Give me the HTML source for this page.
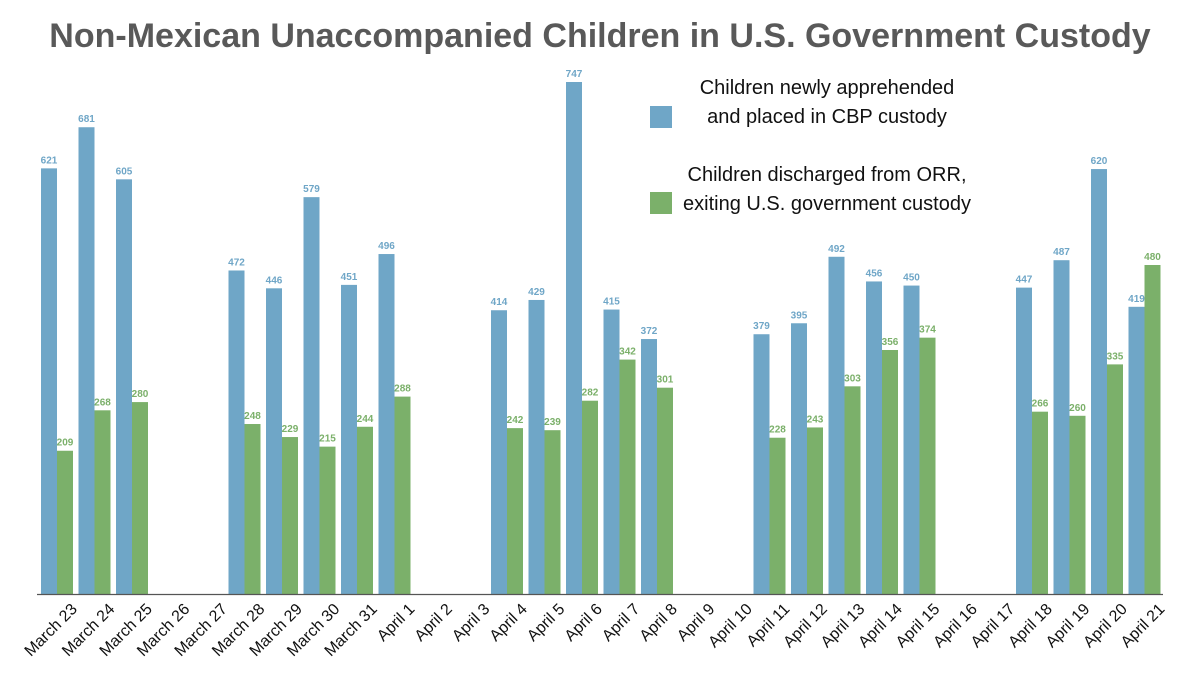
<!DOCTYPE html>
<html><head><meta charset="utf-8"><style>
body{margin:0;background:#fff;width:1200px;height:675px;overflow:hidden}
svg{display:block;font-family:"Liberation Sans",sans-serif}
</style></head><body>
<svg id="chart" width="1200" height="675">
<text x="600" y="47" text-anchor="middle" font-size="34" font-weight="bold" fill="#595959">Non-Mexican Unaccompanied Children in U.S. Government Custody</text>
<g>
<rect x="650" y="106" width="22" height="22" fill="#6fa6c7"/>
<text x="827" y="94" text-anchor="middle" font-size="20" fill="#111"><tspan x="827">Children newly apprehended</tspan><tspan x="827" dy="29">and placed in CBP custody</tspan></text>
<rect x="650" y="192" width="22" height="22" fill="#7bb06a"/>
<text x="827" y="181" text-anchor="middle" font-size="20" fill="#111"><tspan x="827">Children discharged from ORR,</tspan><tspan x="827" dy="29">exiting U.S. government custody</tspan></text>
</g>
<g id="bars"></g>
<line x1="37" y1="594.5" x2="1163" y2="594.5" stroke="#555" stroke-width="1.2"/>
<g id="xlabels"></g>
</svg>
<script>
const categories=["March 23","March 24","March 25","March 26","March 27","March 28","March 29","March 30","March 31","April 1","April 2","April 3","April 4","April 5","April 6","April 7","April 8","April 9","April 10","April 11","April 12","April 13","April 14","April 15","April 16","April 17","April 18","April 19","April 20","April 21"];
const cbpValues=[621,681,605,null,null,472,446,579,451,496,null,null,414,429,747,415,372,null,null,379,395,492,456,450,null,null,447,487,620,419];
const orrValues=[209,268,280,null,null,248,229,215,244,288,null,null,242,239,282,342,301,null,null,228,243,303,356,374,null,null,266,260,335,480];
const NS="http://www.w3.org/2000/svg";
const x0=40,pitch=37.5,bw=16,base=594,k=512/747;
function xAt(i){return x0+i*pitch;}
function yAt(v){return base-v*k;}
const bars=document.getElementById('bars'),xl=document.getElementById('xlabels');
function bar(i,v,off,fill,tc,name){
 if(v==null)return;
 const r=document.createElementNS(NS,'rect');
 r.setAttribute('x',xAt(i)+off);r.setAttribute('y',yAt(v));r.setAttribute('width',bw);r.setAttribute('height',base-yAt(v));r.setAttribute('fill',fill);
 
 
 bars.appendChild(r);
 const t=document.createElementNS(NS,'text');
 t.setAttribute('x',xAt(i)+off+bw/2);t.setAttribute('y',yAt(v)-5);t.setAttribute('text-anchor','middle');t.setAttribute('font-size','10');t.setAttribute('font-weight','bold');t.setAttribute('fill',tc);
 t.textContent=v;
 
 
 bars.appendChild(t);
}
categories.forEach((c,i)=>{
 bar(i,cbpValues[i],1,'#6fa6c7','#6fa6c7','cbp');
 bar(i,orrValues[i],17,'#7bb06a','#7bb06a','orr');
 const t=document.createElementNS(NS,'text');
 const cx=xAt(i)+38,cy=610;
 t.setAttribute('x',cx);t.setAttribute('y',cy);t.setAttribute('text-anchor','end');t.setAttribute('font-size','16');t.setAttribute('fill','#111');
 t.setAttribute('transform','rotate(-45 '+cx+' '+cy+')');
 t.textContent=c;
 
 
 xl.appendChild(t);
});
</script>
</body></html>
